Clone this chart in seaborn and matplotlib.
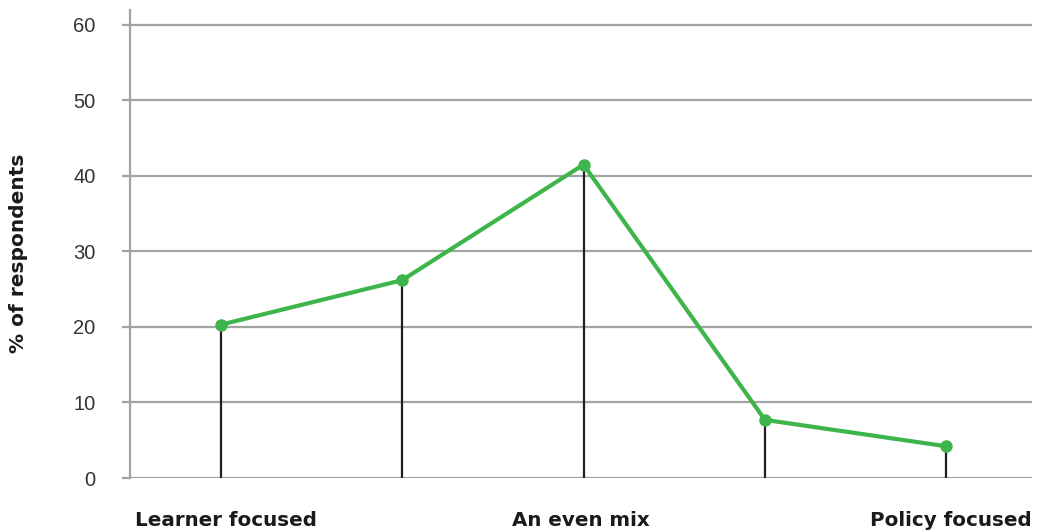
import matplotlib
matplotlib.use("Agg")
import matplotlib.pyplot as plt
import seaborn as sns
import pandas as pd

# Survey responses along the learner/policy focus scale
scale_positions = [0, 1, 2, 3, 4]
pct_respondents = [20.3, 26.2, 41.5, 7.7, 4.2]
scale_labels = ["Learner focused", "An even mix", "Policy focused"]
y_ticks = [0, 10, 20, 30, 40, 50, 60]

df = pd.DataFrame({"position": scale_positions, "pct": pct_respondents})

sns.set_theme(style="white")
plt.rcParams["font.family"] = ["Liberation Sans", "DejaVu Sans"]

fig = plt.figure(figsize=(10.42, 5.32), dpi=100)
ax = fig.add_axes([0.1248, 0.1015, 0.8652, 0.880])

grid_color = "#a3a3a3"
green = "#3db54a"

# Horizontal gridlines
for t in y_ticks:
    ax.axhline(t, color=grid_color, lw=1.6, zorder=0)

# Stems from the baseline up to each point
ax.vlines(df["position"], 0, df["pct"], color="#231f20", lw=1.6, zorder=1)

sns.lineplot(data=df, x="position", y="pct", color=green, lw=3,
             marker="o", markersize=9, markeredgewidth=0, ax=ax, zorder=3)

ax.set_xlim(-0.5, 4.47)
ax.set_ylim(0, 62)
ax.set_yticks(y_ticks)
ax.set_yticklabels([str(t) for t in y_ticks], fontsize=14.5, color="#333333")
ax.tick_params(axis="y", length=5.8, width=1.6, color=grid_color, pad=19, left=True)
ax.set_xticks([])
ax.set_xlabel("")
ax.set_ylabel("")

for side in ["top", "right", "bottom"]:
    ax.spines[side].set_visible(False)
ax.spines["left"].set_color(grid_color)
ax.spines["left"].set_linewidth(1.6)

bold = dict(family="DejaVu Sans", fontweight="bold", color="#1a1a1a")

fig.text(19 / 1042, 1 - 253 / 532, "% of respondents", rotation=90,
         ha="center", va="center", fontsize=14.5, **bold)

# Scale end and middle labels
label_x = [0.005, 0.5, 1.0]
label_ha = ["left", "center", "right"]
for lbl, x, ha in zip(scale_labels, label_x, label_ha):
    ax.text(x, -0.09, lbl, transform=ax.transAxes, ha=ha, va="center",
            fontsize=14.3, **bold)

fig.savefig("out.png", dpi=100)
